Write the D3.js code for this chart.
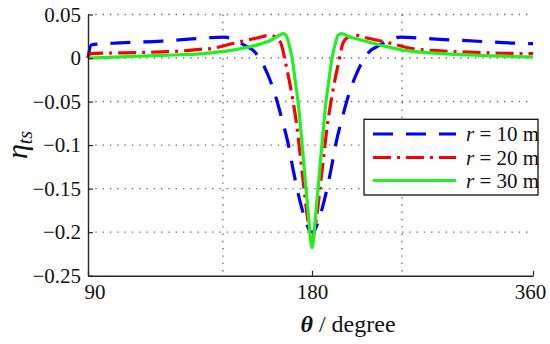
<!DOCTYPE html>
<html>
<head>
<meta charset="utf-8">
<script src="https://cdn.jsdelivr.net/npm/d3@7"></script>
<style>
  body { margin: 0; background: #fff; }
  svg { display: block; }
</style>
</head>
<body>
<svg id="chart" width="550" height="344" font-family="Liberation Serif">
  <text x="348" y="332" text-anchor="middle" font-size="24" font-family="Liberation Serif" fill="#111"><tspan font-style="italic" font-weight="bold">θ</tspan> / degree</text>
  <text transform="translate(27,145) rotate(-90)" text-anchor="middle" font-style="italic" font-family="Liberation Serif" fill="#111"><tspan font-size="30">η</tspan><tspan font-size="20" dy="5">ts</tspan></text>
</svg>
<script>
// ---- data ----
const xTicks = [90, 180, 360];
const xTickLabels = ["90", "180", "360"];
const xGrid = [144.2, 253.3];
const yTicks = [0.05, 0, -0.05, -0.1, -0.15, -0.2, -0.25];
const yTickLabels = ["0.05", "0", "\u22120.05", "\u22120.1", "\u22120.15", "\u22120.2", "\u22120.25"];
const yGrid = [0.05, 0, -0.05, -0.1, -0.15, -0.2];

const seriesNames = ["10", "20", "30"];

const theta10 = [90, 91.2, 99.6, 119.7, 131.8, 139.8, 145.0, 149.9, 153.9, 156.7, 159.9, 163.1, 165.5, 167.9, 170.4, 172.4, 174.8, 177.2, 178.8, 180,
  182.4, 185.7, 190.6, 195.5, 199.5, 204.4, 209.3, 214.2, 220.7, 227.2, 232.9, 241.1, 251.7, 277.7, 318.5, 347.0, 360];
const eta10 = [0, 0.015, 0.017, 0.0195, 0.022, 0.0235, 0.024, 0.019, 0.013, 0.008, -0.005, -0.025, -0.045, -0.07, -0.098, -0.128, -0.16, -0.185, -0.197, -0.2,
  -0.197, -0.185, -0.16, -0.128, -0.098, -0.07, -0.045, -0.025, -0.005, 0.008, 0.013, 0.019, 0.024, 0.022, 0.019, 0.017, 0.0165];

const theta20 = [90, 90.8, 103.7, 119.7, 127.0, 135.0, 139.8, 149.9, 157.9, 163.1, 165.5, 167.5, 169.2, 170.8, 172.4, 174.0, 175.2, 176.4, 177.6, 178.8, 180,
  182.4, 184.9, 187.3, 189.8, 192.2, 195.5, 198.7, 202.0, 205.2, 209.3, 216.7, 224.8, 241.1, 261.5, 287.5, 302.2, 334.8, 360];
const eta20 = [0, 0.005, 0.006, 0.007, 0.008, 0.010, 0.011, 0.018, 0.023, 0.026, 0.024, 0.017, -0.003, -0.025, -0.05, -0.08, -0.11, -0.14, -0.17, -0.195, -0.21,
  -0.195, -0.17, -0.14, -0.11, -0.08, -0.05, -0.025, -0.003, 0.017, 0.024, 0.026, 0.023, 0.018, 0.011, 0.008, 0.007, 0.0055, 0.005];

const theta30 = [90, 119.7, 135.8, 147.9, 159.1, 163.9, 166.7, 168.3, 169.6, 170.8, 172.0, 173.2, 174.4, 175.6, 176.8, 178.4, 180,
  183.3, 186.5, 189.0, 191.4, 193.8, 196.3, 198.7, 201.2, 204.4, 209.3, 219.1, 235.4, 254.1, 286.7, 326.6, 360];
const eta30 = [0, 0.003, 0.005, 0.009, 0.016, 0.021, 0.026, 0.028, 0.026, 0.015, 0.0, -0.025, -0.05, -0.085, -0.125, -0.175, -0.218,
  -0.175, -0.125, -0.085, -0.05, -0.025, 0.0, 0.015, 0.026, 0.028, 0.025, 0.021, 0.015, 0.009, 0.005, 0.0025, 0.001];

// ---- layout ----
const padL = 88, padR = 533, padT = 14.5, padB = 275.7;
const FONT = "Times New Roman";

const svg = d3.select("#chart");

const x = d3.scaleLinear().domain([90, 180, 360]).range([padL, 312, padR]);
const y = d3.scaleLinear().domain([-0.25, 0.05]).range([padB, padT]);

// grid
const grid = svg.append("g").attr("stroke", "#707070").attr("stroke-width", 1.4)
  .attr("stroke-dasharray", "1.4,5.9").attr("fill", "none");
grid.selectAll("line.h").data(yGrid).join("line").attr("class", "h")
  .attr("x1", padL).attr("x2", padR).attr("y1", d => y(d)).attr("y2", d => y(d));
grid.selectAll("line.v").data(xGrid).join("line").attr("class", "v")
  .attr("x1", d => x(d)).attr("x2", d => x(d)).attr("y1", padT).attr("y2", padB);

// series
const series = [
  { name: seriesNames[0], xs: theta10, ys: eta10, color: "#0000ff", dash: "20,13" },
  { name: seriesNames[1], xs: theta20, ys: eta20, color: "#ff0000", dash: "18,6,3,6" },
  { name: seriesNames[2], xs: theta30, ys: eta30, color: "#22f022", dash: null }
];
const line = d3.line().x(d => x(d[0])).y(d => y(d[1])).curve(d3.curveMonotoneX);
series.forEach(s => {
  const pts = s.xs.map((t, i) => [t, s.ys[i]]);
  svg.append("path").datum(pts).attr("d", line)
    .attr("fill", "none").attr("stroke", s.color).attr("stroke-width", 3.2)
    .attr("stroke-dasharray", s.dash);
});

// axes
const axisColor = "#262626";
const xAxis = d3.axisBottom(x).tickValues(xTicks).tickFormat((d, i) => xTickLabels[i])
  .tickSizeInner(-5).tickSizeOuter(0).tickPadding(8);
const gx = svg.append("g").attr("transform", `translate(0,${padB})`).call(xAxis);
const xOffsets = [6.5, 0, -3];
gx.selectAll(".tick text").attr("dx", (d, i) => xOffsets[i]);

const yAxis = d3.axisLeft(y).tickValues(yTicks).tickFormat((d, i) => yTickLabels[i])
  .tickSizeInner(-5).tickSizeOuter(0).tickPadding(7);
const gy = svg.append("g").attr("transform", `translate(${padL},0)`).call(yAxis);

[gx, gy].forEach(g => {
  g.attr("font-family", FONT).attr("font-size", 21);
  g.select(".domain").attr("stroke", axisColor).attr("stroke-width", 1.4);
  g.selectAll(".tick line").attr("stroke", axisColor).attr("stroke-width", 1.2);
  g.selectAll(".tick text").attr("fill", "#111").attr("font-family", FONT);
});

// legend
const lg = svg.append("g");
lg.append("rect").attr("x", 364).attr("y", 119.3).attr("width", 174).attr("height", 75.7)
  .attr("fill", "#fff").attr("stroke", "#111").attr("stroke-width", 1.3);
const rowY = [134, 157.5, 180.5];
series.forEach((s, i) => {
  lg.append("line").attr("x1", 373).attr("x2", 456).attr("y1", rowY[i]).attr("y2", rowY[i])
    .attr("stroke", s.color).attr("stroke-width", 3.2).attr("stroke-dasharray", s.dash);
  const t = lg.append("text").attr("x", 466).attr("y", rowY[i] + 7).attr("font-size", 21)
    .attr("font-family", FONT).attr("fill", "#111");
  t.append("tspan").attr("font-style", "italic").text("r");
  t.append("tspan").text(" = " + s.name + " m");
});
</script>
</body>
</html>
